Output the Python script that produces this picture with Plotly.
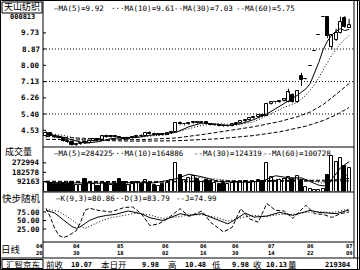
import plotly.graph_objects as go

# ---------------- data ----------------
opens = [4.20,4.38,4.25,4.15,4.10,3.95,3.90,3.76,3.80,3.88,
         3.84,3.98,4.04,4.00,4.20,4.16,4.22,4.18,4.10,4.06,
         4.12,4.16,4.25,4.20,4.40,4.35,4.30,4.32,4.30,4.38,
         4.46,4.92,4.85,4.88,4.90,4.98,4.92,4.95,4.88,4.80,
         4.80,4.78,4.76,4.78,4.84,4.92,5.02,5.10,5.18,5.25,
         5.35,5.32,5.95,6.02,6.05,6.10,6.05,6.40,6.05,7.42,
         7.26,7.95,8.75,9.62,10.58,10.58,9.00,9.35,9.75,10.50,9.98]
highs = [4.48,4.42,4.30,4.22,4.12,4.02,3.92,3.84,3.90,3.95,
         4.02,4.06,4.08,4.25,4.30,4.26,4.28,4.22,4.15,4.14,
         4.20,4.28,4.32,4.45,4.48,4.40,4.36,4.38,4.40,4.50,
         4.98,5.00,4.92,4.95,5.02,5.02,4.98,5.00,4.92,4.85,
         4.84,4.82,4.80,4.86,4.95,5.05,5.12,5.22,5.30,5.40,
         5.42,6.00,6.08,6.10,6.15,6.22,6.75,6.50,6.68,7.60,
         7.28,7.95,8.75,9.62,10.58,10.62,9.65,9.95,10.60,10.62,10.48]
lows = [4.15,4.22,4.10,4.05,3.92,3.85,3.72,3.70,3.76,3.82,
        3.82,3.94,3.96,3.98,4.12,4.12,4.15,4.08,4.02,4.03,
        4.08,4.12,4.18,4.18,4.30,4.25,4.24,4.26,4.28,4.34,
        4.44,4.80,4.78,4.82,4.86,4.88,4.86,4.85,4.78,4.76,
        4.74,4.72,4.72,4.74,4.80,4.88,4.96,5.05,5.12,5.20,
        5.25,5.30,5.90,5.96,6.00,6.06,6.02,6.00,6.00,6.90,
        7.24,7.95,8.75,9.62,10.58,9.45,8.85,9.30,9.70,10.00,9.98]
closes = [4.40,4.25,4.15,4.10,3.95,3.90,3.76,3.80,3.86,3.84,
          3.98,4.04,4.00,4.20,4.16,4.22,4.18,4.10,4.06,4.12,
          4.16,4.25,4.22,4.40,4.35,4.30,4.32,4.30,4.38,4.46,
          4.92,4.85,4.88,4.90,4.98,4.92,4.95,4.88,4.80,4.80,
          4.78,4.76,4.78,4.84,4.92,5.02,5.10,5.18,5.25,5.35,
          5.32,5.95,6.02,6.05,6.10,6.18,6.55,6.05,6.62,7.22,
          7.26,7.95,8.75,9.62,10.58,9.55,9.60,9.75,10.30,10.07,10.13]
volumes = [95000,80000,70000,75000,85000,70000,95000,60000,65000,120000,
           80000,70000,55000,95000,85000,60000,70000,120000,90000,60000,
           70000,90000,75000,110000,85000,60000,55000,70000,80000,105000,
           273000,160000,110000,130000,150000,120000,95000,110000,100000,80000,
           70000,85000,75000,80000,90000,95000,100000,85000,95000,110000,
           100000,273000,135000,100000,110000,120000,140000,120000,150000,110000,
           40000,25000,15000,18000,27000,160000,335000,285000,320000,245000,219304]

# moving-average lines (index, value)
ma5_idx  = [0,3,6,9,12,15,18,21,24,27,30,33,36,39,42,45,48,51,54,56,58,59,60,61,62,63,64,65,66,67,68,69,70]
ma5_val  = [4.32,4.22,4.02,3.84,3.92,4.08,4.15,4.15,4.26,4.33,4.42,4.72,4.92,4.87,4.79,4.88,5.10,5.40,5.80,6.10,6.39,6.57,6.74,7.02,7.56,8.16,8.83,9.29,9.62,9.82,9.96,9.85,9.92]
ma10_idx = [0,4,8,12,16,20,24,28,32,36,40,44,48,52,55,58,60,62,64,66,68,70]
ma10_val = [4.36,4.26,4.05,3.96,4.06,4.12,4.22,4.30,4.55,4.80,4.88,4.82,4.98,5.40,5.75,6.02,6.40,6.95,7.75,8.55,9.15,9.61]
ma30_idx = [0,8,15,22,30,36,42,48,54,58,61,64,67,70]
ma30_val = [4.20,4.10,4.03,4.03,4.12,4.30,4.50,4.72,5.00,5.25,5.50,5.90,6.45,7.03]
ma60_idx = [0,10,20,30,40,48,54,60,64,67,70]
ma60_val = [4.05,3.98,3.95,3.97,4.08,4.25,4.45,4.75,5.05,5.35,5.75]

vma5_idx  = [0,5,10,15,20,25,30,33,36,40,45,50,53,56,59,61,63,65,66,68,70]
vma5_val  = [85000,82000,80000,78000,85000,82000,120000,165000,140000,95000,88000,98000,150000,130000,130000,95000,60000,50000,115000,225000,284225]
vma10_idx = [0,10,20,30,35,40,45,50,55,60,64,67,70]
vma10_val = [88000,82000,82000,95000,135000,115000,90000,95000,125000,115000,80000,110000,164886]
vma30_idx = [0,20,35,50,60,66,70]
vma30_val = [92000,86000,100000,102000,108000,108000,124319]
vma60_idx = [0,30,50,65,70]
vma60_val = [98000,92000,96000,96000,100728]

k_idx = [0,2,4,6,7,8,10,12,14,16,19,22,24,27,31,33,36,39,42,44,46,48,51,54,57,61,63,67,70]
k_val = [80,72,52,32,27,32,50,60,65,68,78,70,58,50,70,65,70,55,40,55,72,60,63,74,65,80,74,70,80.86]
d_idx = [0,3,6,8,9,11,13,15,18,21,24,27,30,33,36,39,42,45,48,51,54,57,60,63,66,68,70]
d_val = [83,77,52,32,27,38,50,58,66,72,66,56,60,66,67,60,48,58,65,62,68,68,74,76,73,78,83.79]
j_idx = [0,1,2,3,4,5,6,7,8,9,10,12,15,18,20,22,24,26,28,31,33,36,38,40,41,43,45,47,49,51,53,55,57,60,62,64,66,68,70]
j_val = [86,60,27,6,0,4,12,20,45,80,86,80,75,88,90,70,35,40,55,85,62,78,45,25,16,30,85,55,45,100,80,78,56,95,70,68,59,70,74.99]

price_ticks = [9.73, 8.87, 8.00, 7.13, 6.26, 5.40, 4.53]
price_grid = [8.87, 7.13, 5.40]
vol_ticks = [272994, 182578, 92163]
vol_tick_text = ["272994", "182578", "92163"]
kdj_ticks = [75, 50, 25]
date_pos = [-1.6, 7.1, 17.1, 27.5, 36.3, 43.7, 52.0, 61.0, 70.0]
date_top = ["04", "04", "05", "06", "06", "06", "07", "06", "07"]
date_bot = ["20", "30", "18", "02", "16", "30", "14", "22", "09"]

price_legend = ["—MA(5)=9.92", "···MA(10)=9.61", "--MA(30)=7.03", "--MA(60)=5.75"]
vol_legend = ["—MA(5)=284225", "···MA(10)=164886", "--MA(30)=124319", "--MA(60)=100728"]
kdj_legend = ["—K(9,3)=80.86", "···D(3)=83.79", "--J=74.99"]
info_labels = ["前收", "本日开", "高", "低", "收", "量"]
info_values = ["10.07", "9.98", "10.48", "9.98", "10.13", "219304"]

# ---------------- geometry helpers ----------------
W, H = 360, 270
def PX(x): return x / W
def PY(y): return 1 - y / H

X_LEFT, X_RIGHT = 43, 354
X0, STEP = 46.0, 4.33
xr = [(X_LEFT - X0) / STEP, (X_RIGHT - X0) / STEP]
def IX(i): return PX(X0 + STEP * i)   # index -> paper x (same linear map as the x axis)

ppu = (114 - 49) / (8.87 - 5.40)
P_TOP, P_BOT = 2, 147
p_range = [5.40 - (P_BOT - 114) / ppu, 8.87 + (49 - P_TOP) / ppu]
V_TOP, V_BOT = 147, 191.5
vpp = (184 - 165) / (272994 - 92163)
v_range = [0, (V_BOT - V_TOP) / vpp]
K_TOP, K_BOT = 192, 242
kpu = (229 - 212) / 50.0
k0y = 229 + 25 * kpu
k_range = [-(K_BOT - k0y) / kpu, (k0y - K_TOP) / kpu]

BLACK = "#000000"
DOT = "1px,2px"
DASH = "4px,2px"
MONO = "DejaVu Sans Mono"
CJK = "Noto Sans CJK SC"

fig = go.Figure()
n = len(closes)
idx = list(range(n))
up = [closes[i] >= opens[i] for i in idx]

wx, wy = [], []
for i in idx:
    top = max(opens[i], closes[i]); bot = min(opens[i], closes[i])
    if highs[i] > top:
        wx += [i, i, None]; wy += [top, highs[i], None]
    if lows[i] < bot:
        wx += [i, i, None]; wy += [bot, lows[i], None]
fig.add_trace(go.Scatter(x=wx, y=wy, mode="lines", line=dict(color=BLACK, width=1),
                         hoverinfo="skip", xaxis="x", yaxis="y"))

def bodies(sel, fill):
    xs = [i for i in idx if sel(i)]
    base = [min(opens[i], closes[i]) for i in xs]
    hgt = [max(abs(closes[i] - opens[i]), 0.012) for i in xs]
    fig.add_trace(go.Bar(x=xs, y=hgt, base=base, width=0.72,
                         marker=dict(color=fill, line=dict(color=BLACK, width=1)),
                         xaxis="x", yaxis="y", hoverinfo="skip"))

bodies(lambda i: up[i], "#ffffff")
bodies(lambda i: not up[i], BLACK)

for xi, yv, dash in [(ma5_idx, ma5_val, "solid"), (ma10_idx, ma10_val, DOT),
                     (ma30_idx, ma30_val, DASH), (ma60_idx, ma60_val, DASH)]:
    fig.add_trace(go.Scatter(x=xi, y=yv, mode="lines", line=dict(color=BLACK, width=1, dash=dash),
                             hoverinfo="skip", xaxis="x", yaxis="y"))

for sel, fill in [(lambda i: up[i], "#ffffff"), (lambda i: not up[i], BLACK)]:
    xs = [i for i in idx if sel(i)]
    fig.add_trace(go.Bar(x=xs, y=[volumes[i] for i in xs], width=0.72,
                         marker=dict(color=fill, line=dict(color=BLACK, width=1)),
                         xaxis="x", yaxis="y2", hoverinfo="skip"))
for xi, yv, dash in [(vma5_idx, vma5_val, "solid"), (vma10_idx, vma10_val, DOT),
                     (vma30_idx, vma30_val, DASH), (vma60_idx, vma60_val, DASH)]:
    fig.add_trace(go.Scatter(x=xi, y=yv, mode="lines", line=dict(color=BLACK, width=1, dash=dash),
                             hoverinfo="skip", xaxis="x", yaxis="y2"))

for xi, yv, dash in [(k_idx, k_val, "solid"), (d_idx, d_val, DOT), (j_idx, j_val, DASH)]:
    fig.add_trace(go.Scatter(x=xi, y=yv, mode="lines", line=dict(color=BLACK, width=1, dash=dash),
                             hoverinfo="skip", xaxis="x", yaxis="y3"))

shapes = []
def hline_px(y, x0, x1, width=1, dash="solid"):
    shapes.append(dict(type="line", xref="paper", yref="paper", x0=PX(x0), x1=PX(x1),
                       y0=PY(y), y1=PY(y), line=dict(color=BLACK, width=width, dash=dash)))
def vline_px(x, y0, y1, width=1):
    shapes.append(dict(type="line", xref="paper", yref="paper", x0=PX(x), x1=PX(x),
                       y0=PY(y0), y1=PY(y1), line=dict(color=BLACK, width=width)))

shapes.append(dict(type="rect", xref="paper", yref="paper", x0=PX(0.5), x1=PX(359.5),
                   y0=PY(269.5), y1=PY(0.5), line=dict(color=BLACK, width=1)))
vline_px(X_LEFT, 0, 258)
vline_px(X_RIGHT, 0, 258)
vline_px(357.5, 0, 270)
hline_px(P_BOT, X_LEFT, X_RIGHT)
hline_px(K_TOP, X_LEFT, X_RIGHT)
hline_px(K_BOT, X_LEFT, X_RIGHT)
hline_px(258, 0, 360)
shapes.append(dict(type="rect", xref="paper", yref="paper", x0=PX(2), x1=PX(42),
                   y0=PY(13), y1=PY(2), line=dict(color=BLACK, width=1)))
shapes.append(dict(type="rect", xref="paper", yref="paper", x0=PX(2), x1=PX(43),
                   y0=PY(268.5), y1=PY(259.5), line=dict(color=BLACK, width=1)))
for g in price_grid:
    shapes.append(dict(type="line", xref="paper", yref="y", x0=PX(X_LEFT), x1=PX(X_RIGHT),
                       y0=g, y1=g, line=dict(color=BLACK, width=1, dash=DOT)))
for t in price_ticks:
    shapes.append(dict(type="line", xref="paper", yref="y", x0=PX(X_LEFT), x1=PX(X_LEFT + 3),
                       y0=t, y1=t, line=dict(color=BLACK, width=1)))
for t in vol_ticks:
    shapes.append(dict(type="line", xref="paper", yref="y2", x0=PX(X_LEFT), x1=PX(X_LEFT + 3),
                       y0=t, y1=t, line=dict(color=BLACK, width=1)))
for t in kdj_ticks:
    shapes.append(dict(type="line", xref="paper", yref="y3", x0=PX(X_LEFT), x1=PX(X_LEFT + 3),
                       y0=t, y1=t, line=dict(color=BLACK, width=1)))

ann = []
def txt(x, y, s, size=8, font=MONO, anchor="left", weight="normal"):
    ann.append(dict(xref="paper", yref="paper", x=PX(x), y=PY(y), text=s, showarrow=False,
                    xanchor=anchor, yanchor="middle", borderpad=0,
                    font=dict(family=font, size=size, color=BLACK, weight=weight)))

txt(22, 7, "天山纺织", size=9, font=CJK, anchor="center")
txt(22, 17.5, "000813", size=7, anchor="center", weight="bold")
for t in price_ticks:
    ann.append(dict(xref="paper", yref="y", x=PX(41), y=t, text=f"{t:.2f}", showarrow=False,
                    xanchor="right", yanchor="middle", borderpad=0,
                    font=dict(family=MONO, size=7.5, color=BLACK, weight="bold")))
txt(18, 151.5, "成交量", size=9, font=CJK, anchor="center")
for t, s in zip(vol_ticks, vol_tick_text):
    ann.append(dict(xref="paper", yref="y2", x=PX(41), y=t, text=s, showarrow=False,
                    xanchor="right", yanchor="middle", borderpad=0,
                    font=dict(family=MONO, size=7.5, color=BLACK, weight="bold")))
txt(21, 198, "快步随机", size=9.5, font=CJK, anchor="center")
for t in kdj_ticks:
    ann.append(dict(xref="paper", yref="y3", x=PX(41), y=t, text=f"{t:.2f}", showarrow=False,
                    xanchor="right", yanchor="middle", borderpad=0,
                    font=dict(family=MONO, size=7.5, color=BLACK, weight="bold")))
txt(11, 248.5, "日线", size=9.5, font=CJK, anchor="center")

for s, x in zip(price_legend, [53, 110, 173, 235]):
    txt(x, 8, s, size=7.5)
for s, x in zip(vol_legend, [53, 110, 193, 262]):
    txt(x, 153.5, s, size=7.5)
for s, x in zip(kdj_legend, [55, 110, 175]):
    txt(x, 198.5, s, size=7.5)

for p, a, b in zip(date_pos, date_top, date_bot):
    ann.append(dict(xref="paper", yref="paper", x=IX(p), y=PY(249), text=a + "<br>" + b,
                    showarrow=False, xanchor="center", yanchor="middle", borderpad=0,
                    font=dict(family=MONO, size=5.5, color=BLACK, weight="bold")))

txt(23, 264, "汇智京东", size=8.5, font=CJK, anchor="center")
for s, x in zip(info_labels, [55, 114, 172.5, 216, 257, 292.5]):
    txt(x, 264, s, size=8.5, font=CJK, anchor="center")
for s, x in zip(info_values, [81, 150, 195, 240.5, 276, 351]):
    txt(x, 264.5, s, size=7, anchor="center" if x < 340 else "right", weight="bold")

fig.update_layout(
    width=W, height=H, margin=dict(l=0, r=0, t=0, b=0),
    paper_bgcolor="white", plot_bgcolor="white", showlegend=False,
    barmode="overlay", bargap=0,
    xaxis=dict(domain=[PX(X_LEFT), PX(X_RIGHT)], range=xr, visible=False, anchor="y3"),
    yaxis=dict(domain=[PY(P_BOT), PY(P_TOP)], range=p_range, visible=False, anchor="x"),
    yaxis2=dict(domain=[PY(V_BOT), PY(V_TOP)], range=v_range, visible=False, anchor="x"),
    yaxis3=dict(domain=[PY(K_BOT), PY(K_TOP)], range=k_range, visible=False, anchor="x"),
    shapes=shapes, annotations=ann,
)
fig.write_html("out.html")
